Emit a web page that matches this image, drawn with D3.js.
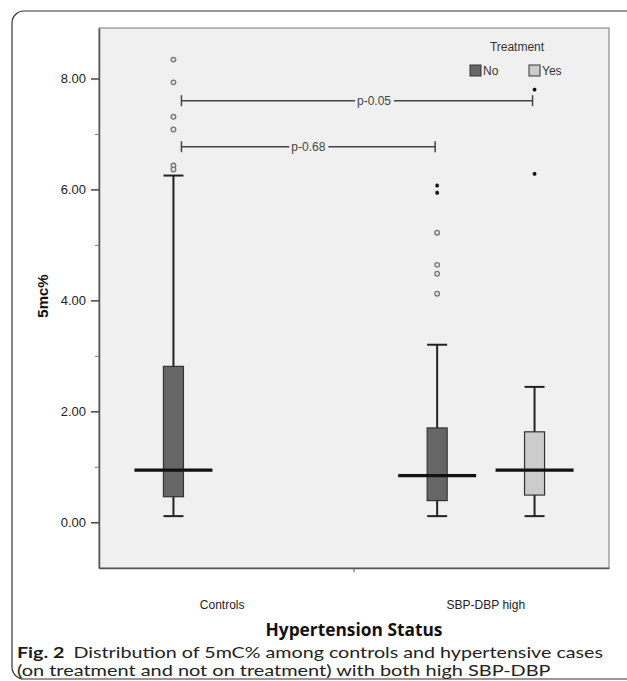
<!DOCTYPE html>
<html>
<head>
<meta charset="utf-8">
<script src="https://cdn.jsdelivr.net/npm/d3@7"></script>
<style>
  body { margin: 0; background: #fff; }
  svg { display: block; }
</style>
</head>
<body>
<div id="chart"></div>
<script>
// categories and series
var groups = ["Controls", "SBP-DBP high"];
var treatments = ["No", "Yes"];

// one entry per box
var boxGroup = ["Controls", "SBP-DBP high", "SBP-DBP high"];
var boxTreat = ["No", "No", "Yes"];
var whiskerLow = [0.11, 0.11, 0.11];
var q1 = [0.46, 0.39, 0.49];
var median = [0.94, 0.84, 0.94];
var q3 = [2.81, 1.70, 1.63];
var whiskerHigh = [6.25, 3.20, 2.44];

// outliers (circles) and extremes (stars), by box index
var outliers = [[8.34, 7.93, 7.31, 7.08, 6.43, 6.36], [5.22, 4.64, 4.48, 4.12], []];
var extremes = [[], [6.07, 5.94], [7.80, 6.28]];

// significance brackets
var pLabels = ["p-0.68", "p-0.05"];
var pLevel = [6.77, 7.60];
var pFrom = [0, 0];
var pTo = [1, 2];

var yTicks = [0, 2, 4, 6, 8];
var yMinor = [1, 3, 5, 7];

function init() {
    var W = 627, H = 681;
    var left = 99, right = 609, top = 28, bottom = 568;
    var axisFont = "'Liberation Sans', Arial, sans-serif";

    var svg = d3.select("#chart").append("svg")
        .attr("width", W)
        .attr("height", H);

    // outer figure frame
    svg.append("rect")
        .attr("x", 12).attr("y", 11)
        .attr("width", 700).attr("height", 668)
        .attr("rx", 12)
        .attr("fill", "none")
        .attr("stroke", "#333")
        .attr("stroke-width", 1.2);

    // plot background
    svg.append("rect")
        .attr("x", left).attr("y", top)
        .attr("width", right - left).attr("height", bottom - top)
        .attr("fill", "#f0f0f0")
        .attr("stroke", "#777")
        .attr("stroke-width", 1);

    var y = d3.scaleLinear().domain([-0.825, 8.91]).range([bottom, top]);
    var x = d3.scalePoint().domain(groups).range([left, right]).padding(0.467);
    var xSub = d3.scalePoint().domain(treatments).range([-48.7, 48.7]);
    var color = d3.scaleOrdinal().domain(treatments).range(["#666666", "#cccccc"]);

    var boxW = 20, medW = 78;

    // y axis
    var yAxis = svg.append("g")
        .attr("transform", "translate(" + left + ",0)")
        .call(d3.axisLeft(y).tickValues(yTicks).tickFormat(d3.format(".2f"))
            .tickSize(8).tickPadding(5).tickSizeOuter(0));
    yAxis.selectAll("text").attr("font-family", axisFont).attr("font-size", 13).attr("fill", "#222");
    yAxis.selectAll("line").attr("stroke", "#444").attr("stroke-width", 1.5);
    yAxis.select(".domain").attr("stroke", "#555").attr("stroke-width", 1.5);

    svg.append("g")
        .attr("transform", "translate(" + left + ",0)")
        .call(d3.axisLeft(y).tickValues(yMinor).tickFormat("").tickSize(4).tickSizeOuter(0))
        .call(function(g) { g.select(".domain").remove(); })
        .selectAll("line").attr("stroke", "#777").attr("stroke-width", 1);

    // x axis: only the divider tick between groups
    var xAxis = svg.append("g")
        .attr("transform", "translate(0," + bottom + ")")
        .call(d3.axisBottom(x).tickValues([]).tickSizeOuter(0));
    xAxis.select(".domain").attr("stroke", "#555").attr("stroke-width", 1.5);
    xAxis.append("line")
        .attr("x1", (x(groups[0]) + x(groups[1])) / 2)
        .attr("x2", (x(groups[0]) + x(groups[1])) / 2)
        .attr("y1", 0).attr("y2", 4)
        .attr("stroke", "#555");

    svg.selectAll("text.xcat")
        .data(groups)
        .enter().append("text")
        .attr("class", "xcat")
        .attr("x", function(d) { return x(d); })
        .attr("y", 609)
        .attr("text-anchor", "middle")
        .attr("font-family", axisFont)
        .attr("font-size", 12)
        .attr("fill", "#222")
        .text(function(d) { return d; });

    // boxes
    var idx = d3.range(boxGroup.length);
    function cx(i) { return x(boxGroup[i]) + xSub(boxTreat[i]); }

    var boxes = svg.selectAll("g.box")
        .data(idx)
        .enter().append("g")
        .attr("class", "box");

    boxes.append("line")
        .attr("x1", cx).attr("x2", cx)
        .attr("y1", function(i) { return y(whiskerLow[i]); })
        .attr("y2", function(i) { return y(whiskerHigh[i]); })
        .attr("stroke", "#222").attr("stroke-width", 2);

    [whiskerLow, whiskerHigh].forEach(function(arr) {
        boxes.append("line")
            .attr("x1", function(i) { return cx(i) - boxW / 2; })
            .attr("x2", function(i) { return cx(i) + boxW / 2; })
            .attr("y1", function(i) { return y(arr[i]); })
            .attr("y2", function(i) { return y(arr[i]); })
            .attr("stroke", "#222").attr("stroke-width", 2);
    });

    boxes.append("rect")
        .attr("x", function(i) { return cx(i) - boxW / 2; })
        .attr("y", function(i) { return y(q3[i]); })
        .attr("width", boxW)
        .attr("height", function(i) { return y(q1[i]) - y(q3[i]); })
        .attr("fill", function(i) { return color(boxTreat[i]); })
        .attr("stroke", "#333").attr("stroke-width", 1.2);

    boxes.append("line")
        .attr("x1", function(i) { return cx(i) - medW / 2; })
        .attr("x2", function(i) { return cx(i) + medW / 2; })
        .attr("y1", function(i) { return y(median[i]); })
        .attr("y2", function(i) { return y(median[i]); })
        .attr("stroke", "#111").attr("stroke-width", 3.2);

    // outliers
    boxes.each(function(i) {
        var g = d3.select(this);
        g.selectAll("circle.out")
            .data(outliers[i])
            .enter().append("circle")
            .attr("class", "out")
            .attr("cx", cx(i))
            .attr("cy", function(d) { return y(d); })
            .attr("r", 2.3)
            .attr("fill", "#e6e6e6")
            .attr("stroke", "#777")
            .attr("stroke-width", 1.3);
        g.selectAll("path.ext")
            .data(extremes[i])
            .enter().append("path")
            .attr("class", "ext")
            .attr("transform", function(d) { return "translate(" + cx(i) + "," + y(d) + ")"; })
            .attr("d", d3.symbol(d3.symbolAsterisk, 10))
            .attr("stroke", "#111")
            .attr("stroke-width", 1.6);
    });

    // significance brackets
    var labelShift = [0, 17];
    pLabels.forEach(function(lab, k) {
        var x1 = cx(pFrom[k]) + 8, x2 = cx(pTo[k]) - 2, yy = y(pLevel[k]);
        var g = svg.append("g");
        var t = g.append("text")
            .attr("x", (x1 + x2) / 2 + labelShift[k])
            .attr("y", yy + 4)
            .attr("text-anchor", "middle")
            .attr("font-family", axisFont)
            .attr("font-size", 12)
            .attr("fill", "#444")
            .text(lab);
        var tw = t.node().getComputedTextLength();
        var tc = (x1 + x2) / 2 + labelShift[k];
        [[x1, tc - tw / 2 - 2], [tc + tw / 2 + 3, x2]].forEach(function(s) {
            g.append("line")
                .attr("x1", s[0]).attr("x2", s[1])
                .attr("y1", yy).attr("y2", yy)
                .attr("stroke", "#444").attr("stroke-width", 1.5);
        });
        [x1, x2].forEach(function(xx) {
            g.append("line")
                .attr("x1", xx).attr("x2", xx)
                .attr("y1", yy - 5.5).attr("y2", yy + 5.5)
                .attr("stroke", "#444").attr("stroke-width", 1.5);
        });
    });

    // legend
    var legend = svg.append("g");
    legend.append("text")
        .attr("x", 517).attr("y", 51)
        .attr("text-anchor", "middle")
        .attr("font-family", axisFont)
        .attr("font-size", 12)
        .attr("fill", "#333")
        .text("Treatment");
    var legX = d3.scalePoint().domain(treatments).range([470, 529]);
    var items = legend.selectAll("g.item")
        .data(treatments)
        .enter().append("g")
        .attr("class", "item")
        .attr("transform", function(d) { return "translate(" + legX(d) + ",65)"; });
    items.append("rect")
        .attr("width", 11).attr("height", 11)
        .attr("fill", function(d) { return color(d); })
        .attr("stroke", "#333").attr("stroke-width", 1);
    items.append("text")
        .attr("x", 13).attr("y", 10)
        .attr("font-family", axisFont)
        .attr("font-size", 12)
        .attr("fill", "#333")
        .text(function(d) { return d; });

    // axis titles
    svg.append("text")
        .attr("transform", "translate(48,296) rotate(-90)")
        .attr("text-anchor", "middle")
        .attr("font-family", axisFont)
        .attr("font-weight", "bold")
        .attr("font-size", 15)
        .attr("fill", "#111")
        .text("5mc%");

    var xt = svg.append("text")
        .attr("x", (left + right) / 2)
        .attr("y", 636)
        .attr("text-anchor", "middle")
        .attr("font-family", "'Open Sans', sans-serif")
        .attr("font-weight", "bold")
        .attr("font-size", 16)
        .attr("fill", "#111")
        .text("Hypertension Status");
    xt.attr("font-size", 16 * 177 / xt.node().getComputedTextLength());

    // caption
    var capFont = "Lato, 'Open Sans', sans-serif";
    var fs = 15;
    var cap1 = svg.append("text")
        .attr("x", 17).attr("y", 658)
        .attr("font-family", capFont)
        .attr("font-size", fs)
        .attr("fill", "#222");
    cap1.append("tspan").attr("font-weight", "bold").attr("fill", "#1a1a1a").text("Fig. 2");
    cap1.append("tspan").attr("dx", 7).text("Distribution of 5mC% among controls and hypertensive cases");
    var cap2 = svg.append("text")
        .attr("x", 17).attr("y", 676)
        .attr("font-family", capFont)
        .attr("font-size", fs)
        .attr("fill", "#222")
        .text("(on treatment and not on treatment) with both high SBP-DBP");
    var w1 = cap1.node().getComputedTextLength() + 7;
    var w2 = cap2.node().getComputedTextLength();
    var r = 593 / w1;
    cap1.attr("textLength", 593 - 7).attr("lengthAdjust", "spacingAndGlyphs");
    cap2.attr("textLength", w2 * r).attr("lengthAdjust", "spacingAndGlyphs");
}

window.onload = init;
</script>
</body>
</html>
